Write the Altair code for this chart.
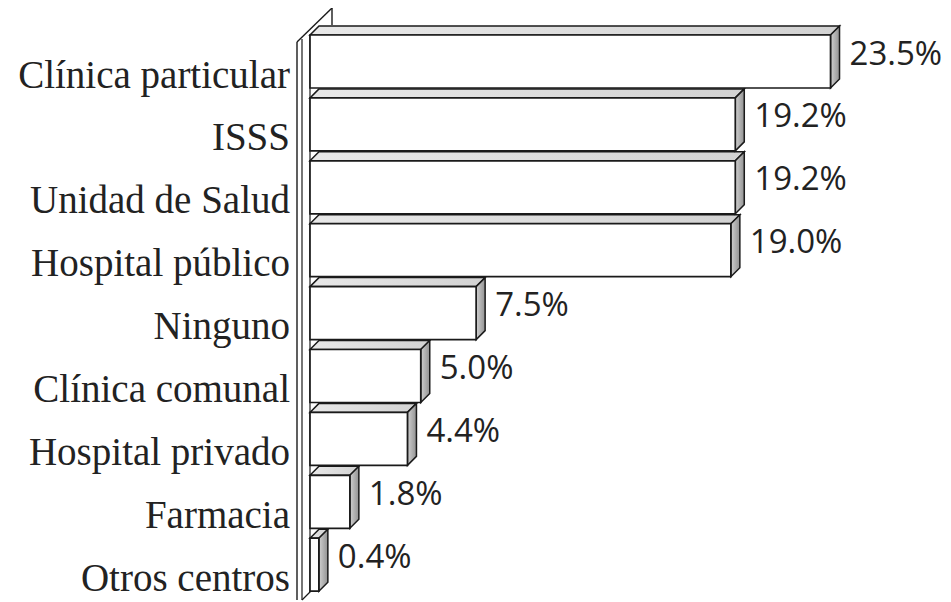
import altair as alt
import pandas as pd

categories = ["Clínica particular", "ISSS", "Unidad de Salud", "Hospital público",
              "Ninguno", "Clínica comunal", "Hospital privado", "Farmacia", "Otros centros"]
values = [23.5, 19.2, 19.2, 19.0, 7.5, 5.0, 4.4, 1.8, 0.4]
value_labels = ["23.5%", "19.2%", "19.2%", "19.0%", "7.5%", "5.0%", "4.4%", "1.8%", "0.4%"]

# layout / style constants (pixels)
W, H = 935, 594
PX_PER_PCT = 22.15
PX_PER_ROW = 62.9
X0_PX = 302      # plot-x of value 0
Y0_PX = 53.5     # plot-y of first row centre
BAR_PX = 53
DEPTH_PX = 9

xmin = -X0_PX / PX_PER_PCT
xmax = xmin + W / PX_PER_PCT
umin = -Y0_PX / PX_PER_ROW
umax = umin + H / PX_PER_ROW
ufloor = umin + 592 / PX_PER_ROW   # bottom of the wall
h = BAR_PX / 2 / PX_PER_ROW
ddx = DEPTH_PX / PX_PER_PCT
ddy = DEPTH_PX / PX_PER_ROW

front = pd.DataFrame({
    "cat": categories, "v": values, "lab": value_labels,
    "i": list(range(len(categories))),
})
front["y1"] = front["i"] - h
front["y2"] = front["i"] + h
front["x0"] = 0.0

top_rows, side_rows = [], []
for i, (c, v) in enumerate(zip(categories, values)):
    top_rows.append({"cat": c, "u": i - h, "xa": 0.0, "xb": v})
    top_rows.append({"cat": c, "u": i - h - ddy, "xa": ddx, "xb": v + ddx})
    side_rows.append({"cat": c, "xs": v, "ya": i - h, "yb": i + h})
    side_rows.append({"cat": c, "xs": v + ddx, "ya": i - h - ddy, "yb": i + h - ddy})
top = pd.DataFrame(top_rows)
side = pd.DataFrame(side_rows)

xsc = alt.Scale(domain=[xmin, xmax], nice=False, zero=False)
ysc = alt.Scale(domain=[umin, umax], nice=False, zero=False, reverse=True)

STROKE = "#1a1a1a"

top_face = alt.Chart(top).mark_area(
    orient="horizontal", stroke=STROKE, strokeWidth=1.5,
    color=alt.LinearGradient(gradient="linear", x1=0, x2=1, y1=0, y2=0,
                             stops=[alt.GradientStop(color="#e8e8e8", offset=0),
                                    alt.GradientStop(color="#d2d2d2", offset=1)]),
    opacity=1,
).encode(
    y=alt.Y("u:Q", scale=ysc, axis=None),
    x=alt.X("xa:Q", scale=xsc, axis=None),
    x2="xb:Q",
    detail="cat:N",
)

side_face = alt.Chart(side).mark_area(
    orient="vertical", stroke=STROKE, strokeWidth=1.5,
    color=alt.LinearGradient(gradient="linear", x1=0, x2=1, y1=0, y2=0,
                             stops=[alt.GradientStop(color="#d0d0d0", offset=0),
                                    alt.GradientStop(color="#929292", offset=1)]),
    opacity=1,
).encode(
    x=alt.X("xs:Q", scale=xsc, axis=None),
    y=alt.Y("ya:Q", scale=ysc, axis=None),
    y2="yb:Q",
    detail="cat:N",
)

front_face = alt.Chart(front).mark_rect(
    fill="white", stroke=STROKE, strokeWidth=1.7,
).encode(
    x=alt.X("x0:Q", scale=xsc, axis=None),
    x2="v:Q",
    y=alt.Y("y1:Q", scale=ysc, axis=None),
    y2="y2:Q",
)

cat_text = alt.Chart(front).mark_text(
    align="right", baseline="middle", font="Liberation Serif", fontSize=39,
    dx=-20, dy=14, color="#222222",
).encode(
    x=alt.X("x0:Q", scale=xsc, axis=None),
    y=alt.Y("i:Q", scale=ysc, axis=None),
    text="cat:N",
)

val_text = alt.Chart(front).mark_text(
    align="left", baseline="middle", font="Open Sans", fontSize=33,
    dx=19, dy=-7, color="#222222",
).encode(
    x=alt.X("v:Q", scale=xsc, axis=None),
    y=alt.Y("i:Q", scale=ysc, axis=None),
    text="lab:N",
)

# wall (category axis plane) drawn relative to the value-0 position
wall = pd.DataFrame({"x": [0.0], "ytop": [-h], "ybot": [ufloor]})
wall_outer = alt.Chart(wall).mark_rule(color=STROKE, strokeWidth=1.4, xOffset=-13,
                                       yOffset=7, y2Offset=0).encode(
    x=alt.X("x:Q", scale=xsc, axis=None), y=alt.Y("ytop:Q", scale=ysc, axis=None), y2="ybot:Q")
wall_inner = alt.Chart(wall).mark_rule(color=STROKE, strokeWidth=1.2, xOffset=-8,
                                       yOffset=4, y2Offset=0).encode(
    x=alt.X("x:Q", scale=xsc, axis=None), y=alt.Y("ytop:Q", scale=ysc, axis=None), y2="ybot:Q")
wall_axis = alt.Chart(wall).mark_rule(color=STROKE, strokeWidth=1.2, xOffset=0,
                                      yOffset=0, y2Offset=-8).encode(
    x=alt.X("x:Q", scale=xsc, axis=None), y=alt.Y("ytop:Q", scale=ysc, axis=None), y2="ybot:Q")
wall_diag = alt.Chart(wall).mark_rule(color=STROKE, strokeWidth=1.4, xOffset=-13, x2Offset=22,
                                      yOffset=7, y2Offset=-27).encode(
    x=alt.X("x:Q", scale=xsc, axis=None), x2="x:Q",
    y=alt.Y("ytop:Q", scale=ysc, axis=None), y2="ytop:Q")
wall_back = alt.Chart(wall).mark_rule(color=STROKE, strokeWidth=1.4, xOffset=22, x2Offset=22,
                                      yOffset=-27, y2Offset=-10).encode(
    x=alt.X("x:Q", scale=xsc, axis=None), x2="x:Q",
    y=alt.Y("ytop:Q", scale=ysc, axis=None), y2="ytop:Q")
wall_foot = alt.Chart(wall).mark_rule(color=STROKE, strokeWidth=1.2, xOffset=-8, x2Offset=1,
                                      yOffset=0, y2Offset=-9).encode(
    x=alt.X("x:Q", scale=xsc, axis=None), x2="x:Q",
    y=alt.Y("ybot:Q", scale=ysc, axis=None), y2="ybot:Q")

chart = alt.layer(
    wall_outer, wall_inner, wall_axis, wall_diag, wall_back, wall_foot,
    top_face, side_face, front_face, cat_text, val_text,
).properties(
    width=W, height=H, padding=0, autosize="none", background="white",
).configure_view(stroke=None)

chart.save("out.html", embed_options={"renderer": "svg", "actions": False})
